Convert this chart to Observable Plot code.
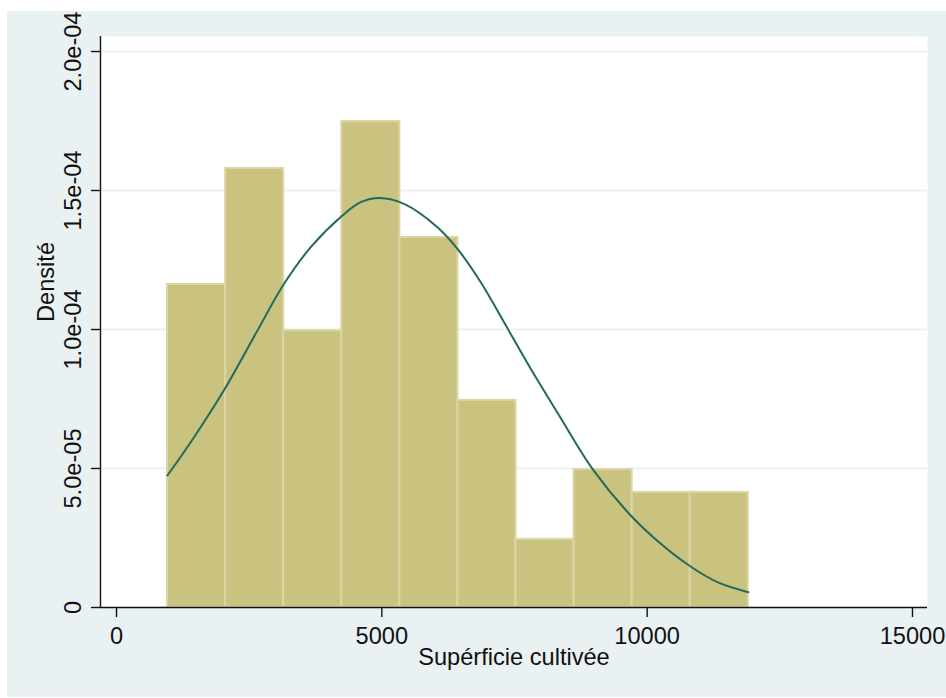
<!DOCTYPE html>
<html>
<head>
<meta charset="utf-8">
<script src="https://cdn.jsdelivr.net/npm/d3@7"></script>
<script src="https://cdn.jsdelivr.net/npm/@observablehq/plot@0.6"></script>
<style>
  html, body { margin: 0; padding: 0; background: #ffffff; }
  #wrap { position: relative; width: 946px; height: 698px; overflow: hidden; }
  #bg { position: absolute; left: 7px; top: 11px; right: 0; bottom: 1px; background: #eaf1f3; }
  #chart { position: absolute; left: 0; top: 0; }
</style>
</head>
<body>
<div id="wrap"><div id="bg"></div><div id="chart"></div></div>
<script>
// Histogram bins of cultivated area (edges) and their densities
const binEdges = [962, 2057, 3151, 4245, 5340, 6434, 7528, 8623, 9717, 10811, 11906];
const densities = [1.162e-4, 1.579e-4, 0.996e-4, 1.748e-4, 1.331e-4, 0.745e-4, 0.245e-4, 0.496e-4, 0.414e-4, 0.414e-4];

// Normal density overlay, sampled points
const curveX = [959, 1461, 2058, 2655, 3157, 3660, 4257, 4602, 4960, 5418, 6048, 6425, 6864, 7303, 7806, 8353, 8969, 9691, 10257, 10790, 11325, 11906];
const curveY = [0.4748e-4, 0.6126e-4, 0.7924e-4, 0.9960e-4, 1.1643e-4, 1.296e-4, 1.410e-4, 1.458e-4, 1.473e-4, 1.452e-4, 1.368e-4, 1.290e-4, 1.170e-4, 1.026e-4, 0.8586e-4, 0.687e-4, 0.4989e-4, 0.3309e-4, 0.2291e-4, 0.1511e-4, 0.091e-4, 0.055e-4];

// Axis ticks and extents
const xTicks = [0, 5000, 10000, 15000];
const yTicks = [0, 5e-5, 1e-4, 1.5e-4, 2e-4];
const xDomain = [-302, 15283];
const yDomain = [0, 2.054e-4];

const xTitle = "Supérficie cultivée";
const yTitle = "Densité";

const bins = densities.map((d, i) => ({x1: binEdges[i], x2: binEdges[i + 1], density: d}));
const curve = curveX.map((x, i) => ({x, y: curveY[i]}));

const fmtX = d => String(d);
const fmtY = d => d === 0 ? "0" : d.toExponential(1).replace(/e([+-])(\d)$/, "e$10$2");

const fontFamily = "'Liberation Sans', Arial, Helvetica, sans-serif";
const fs = 23.6;

const chart = Plot.plot({
  width: 946,
  height: 698,
  marginLeft: 100,
  marginRight: 19,
  marginTop: 36,
  marginBottom: 91,
  style: {background: "transparent", fontFamily, fontSize: `${fs}px`, color: "#111"},
  x: {domain: xDomain, axis: null},
  y: {domain: yDomain, axis: null},
  marks: [
    Plot.frame({fill: "#ffffff", stroke: "none"}),
    Plot.gridY(yTicks, {stroke: "#eaf1f3", strokeOpacity: 1, strokeWidth: 2}),
    Plot.rectY(bins, {x1: "x1", x2: "x2", y: "density", fill: "#cac27f", stroke: "#dbd5a2", strokeWidth: 2, inset: 0}),
    Plot.line(curve, {x: "x", y: "y", curve: "catmull-rom", stroke: "#22695f", strokeWidth: 2}),
    Plot.ruleY([yDomain[0]], {stroke: "#111", strokeWidth: 1.4}),
    Plot.ruleX([xDomain[0]], {stroke: "#111", strokeWidth: 1.4}),
    Plot.axisX(xTicks, {tickSize: 10, tickPadding: 10, fontSize: fs, label: null, tickFormat: fmtX, stroke: "#111", strokeWidth: 1.4}),
    Plot.axisY(yTicks, {tickSize: 9, tickPadding: 11, fontSize: fs, label: null, tickRotate: -90, tickFormat: fmtY, stroke: "#111", strokeWidth: 1.4}),
    Plot.text([xTitle], {frameAnchor: "bottom", dy: 57, fontSize: fs, fill: "#111"}),
    Plot.text([yTitle], {frameAnchor: "left", dx: -54, rotate: -90, fontSize: fs, fill: "#111"})
  ]
});

document.getElementById("chart").appendChild(chart);
</script>
</body>
</html>
